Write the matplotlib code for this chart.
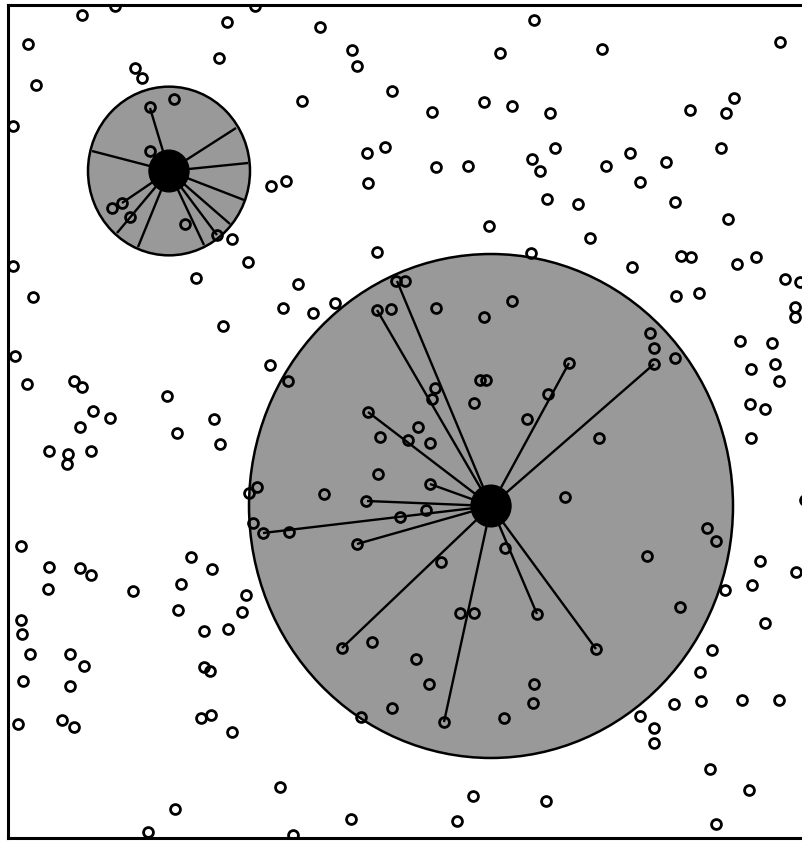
import matplotlib
matplotlib.use("Agg")
import matplotlib.pyplot as plt
import numpy as np
from matplotlib.patches import Circle

# Sample points in image pixels (x right, y down).
pts_px = [
    (82, 15), (115, 6), (28, 44), (36, 85), (135, 68), (142, 78), (227, 22),
    (255, 6), (219, 58), (13, 126), (150, 107), (174, 99), (150, 151),
    (112, 208), (122, 203), (130, 217), (185, 224), (217, 235), (232, 239),
    (248, 262), (13, 266), (196, 278), (271, 186), (286, 181),
    (320, 27), (352, 50), (357, 66), (302, 101), (392, 91), (432, 112),
    (484, 102), (512, 106), (500, 53), (534, 20), (385, 147), (367, 153),
    (368, 183), (436, 167), (468, 166), (532, 159), (540, 171), (489, 226),
    (377, 252), (531, 253), (298, 284), (396, 281), (405, 281),
    (602, 49), (780, 42), (550, 113), (690, 110), (734, 98), (726, 113),
    (555, 148), (630, 153), (606, 166), (666, 162), (721, 148), (640, 182),
    (547, 199), (578, 204), (675, 202), (728, 219), (590, 238), (681, 256),
    (691, 257), (632, 267), (737, 264), (756, 257), (785, 279), (800, 282),
    (795, 307), (795, 317),
    (33, 297), (223, 326), (15, 356), (270, 365), (27, 384), (74, 381),
    (82, 387), (167, 396), (93, 411), (110, 418), (80, 427), (214, 419),
    (177, 433), (220, 444), (49, 451), (68, 454), (67, 464), (91, 451),
    (249, 493), (257, 487), (253, 523), (263, 533), (21, 546), (191, 557),
    (283, 308), (313, 313), (335, 303), (377, 310), (391, 309), (436, 308),
    (484, 317), (512, 301), (288, 381), (480, 380), (486, 380), (435, 388),
    (432, 399), (474, 403), (368, 412), (418, 427), (380, 437), (408, 440),
    (430, 443), (527, 419), (378, 474), (430, 484), (324, 494), (366, 501),
    (426, 510), (400, 517), (289, 532), (357, 544), (505, 548), (441, 562),
    (676, 296), (699, 293), (650, 333), (654, 348), (654, 364), (675, 358),
    (569, 363), (548, 394), (740, 341), (772, 343), (751, 369), (775, 364),
    (779, 381), (750, 404), (765, 409), (751, 438), (599, 438), (565, 497),
    (805, 500), (707, 528), (716, 541), (647, 556), (760, 561),
    (49, 567), (80, 568), (91, 575), (48, 589), (133, 591), (212, 569),
    (181, 584), (246, 595), (242, 612), (178, 610), (21, 620), (22, 634),
    (204, 631), (228, 629), (30, 654), (70, 654), (84, 666), (204, 667),
    (210, 671), (23, 681), (70, 686), (18, 724), (62, 720), (74, 727),
    (201, 718), (211, 715), (232, 732), (175, 809), (148, 832),
    (460, 613), (474, 613), (537, 614), (342, 648), (372, 642), (416, 659),
    (429, 684), (392, 708), (361, 717), (444, 722), (504, 718), (534, 684),
    (533, 703), (280, 787), (351, 819), (473, 796), (457, 821), (293, 835),
    (546, 801),
    (796, 572), (752, 585), (725, 590), (680, 607), (765, 623), (596, 649),
    (712, 650), (700, 672), (674, 704), (701, 701), (742, 700), (779, 700),
    (640, 716), (654, 728), (654, 743), (710, 769), (749, 790), (716, 824),
]

# Query points (black dots), their search radius and the spoke targets.
small_center = (169, 171)
small_radius = 81
small_spokes = [
    (150, 108), (92, 151), (236, 128), (248, 163), (244, 200), (230, 224),
    (217, 235), (204, 245), (138, 247), (117, 233), (122, 203),
]
big_center = (491, 506)
big_radius = 242
big_spokes = [
    (397, 281), (377, 310), (368, 412), (430, 484), (367, 501), (263, 533),
    (357, 544), (342, 648), (444, 722), (537, 614), (596, 649), (654, 364),
    (569, 363),
]
dot_radius = 20

# the field is the unit square; pixel frame spans x 8..808, y 838..5
X0, X1, Y0, Y1 = 8, 808, 838, 5


def to_field(p):
    p = np.asarray(p, dtype=float)
    return np.column_stack([(p[..., 0] - X0) / (X1 - X0),
                            (Y0 - p[..., 1]) / (Y0 - Y1)])


def r_field(r):
    return r / (X1 - X0)


pts = to_field(pts_px)

fig = plt.figure(figsize=(8.03, 8.41), dpi=100)
ax = fig.add_axes([X0 / 803, (841 - Y0) / 841, (X1 - X0) / 803, (Y0 - Y1) / 841])
ax.set_xlim(0, 1)
ax.set_ylim(0, 1)
ax.set_xticks([])
ax.set_yticks([])
for s in ax.spines.values():
    s.set_linewidth(2.2)

for center, radius, spokes in [(small_center, small_radius, small_spokes),
                               (big_center, big_radius, big_spokes)]:
    c = to_field([center])[0]
    ax.add_patch(Circle(c, r_field(radius), facecolor="#999999",
                        edgecolor="black", lw=1.8, zorder=1))
    for t in to_field(spokes):
        ax.plot([c[0], t[0]], [c[1], t[1]], color="black", lw=1.7,
                solid_capstyle="butt", zorder=2)
    ax.add_patch(Circle(c, r_field(dot_radius), facecolor="black",
                        edgecolor="black", zorder=3))

ax.plot(pts[:, 0], pts[:, 1], "o", ms=7.1, mfc="none", mec="black",
        mew=2.0, zorder=4, clip_on=True)

fig.savefig("out.png", dpi=100)
